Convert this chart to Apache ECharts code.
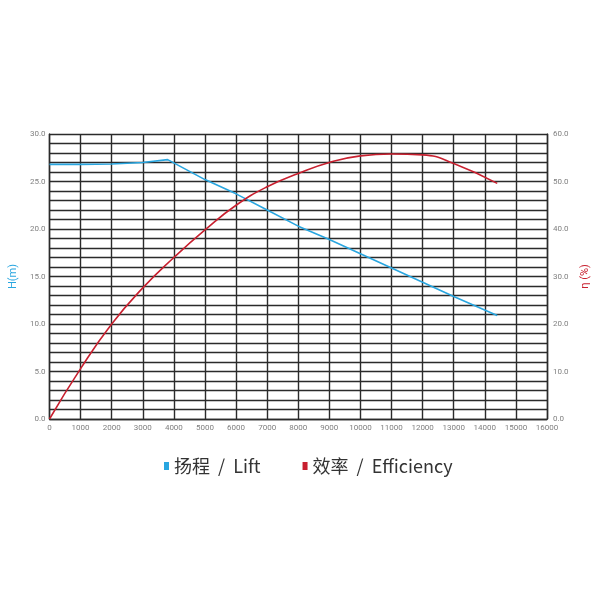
<!DOCTYPE html>
<html>
<head>
<meta charset="utf-8">
<script src="https://cdn.jsdelivr.net/npm/echarts@6/dist/echarts.min.js"></script>
<style>html,body{margin:0;padding:0;background:#fff}#c{width:600px;height:600px}</style>
</head>
<body>
<div id="c"></div>
<script>
var liftFlow = [0, 1000, 2000, 3000, 3800, 5000, 6000, 7000, 8000, 9000, 10000, 11000, 12000, 13000, 14400];
var liftValues = [26.8, 26.8, 26.85, 27.0, 27.3, 25.2, 23.7, 22.0, 20.3, 18.9, 17.4, 15.9, 14.4, 12.9, 10.9];
var effFlow = [0, 1000, 2000, 3000, 4000, 5000, 6000, 7000, 8000, 9000, 10000, 11000, 12000, 13000, 14400];
var effValues = [0, 10.6, 20, 27.6, 34, 39.8, 45.0, 48.9, 51.7, 54.0, 55.4, 55.8, 55.6, 53.8, 49.6];
var seriesNames = ['扬程  /  Lift', '效率  /  Efficiency'];
var axisNames = ['H(m)', 'η (%)'];

function pairs(xs, ys) { return xs.map(function (x, i) { return [x, ys[i]]; }); }
var gridColor = '#2b2b2b';
var labelStyle = { color: '#808080', fontSize: 8, fontFamily: 'Roboto' };
var chart = echarts.init(document.getElementById('c'));
chart.setOption({
  animation: false,
  backgroundColor: '#fff',
  grid: { left: 47, right: 53, top: 134, bottom: 181, containLabel: false },
  legend: {
    data: [
      { name: seriesNames[0], icon: 'rect', itemStyle: { color: '#29a6e0' } },
      { name: seriesNames[1], icon: 'rect', itemStyle: { color: '#c8202f' } }
    ],
    top: 452, left: 159, itemWidth: 5, itemHeight: 8, itemGap: 42,
    textStyle: { fontSize: 18, color: '#333', fontFamily: 'Noto Sans CJK SC' }
  },
  xAxis: {
    type: 'value', min: 0, max: 16000, interval: 1000,
    axisLine: { lineStyle: { color: gridColor, width: 1.4 } },
    axisTick: { show: false },
    axisLabel: Object.assign({ margin: 5, formatter: function (v) { return String(v); } }, labelStyle),
    splitLine: { show: true, lineStyle: { color: gridColor, width: 1.4 } }
  },
  yAxis: [
    {
      type: 'value', min: 0, max: 30, interval: 1, position: 'left',
      name: axisNames[0], nameLocation: 'middle', nameGap: 25,
      nameTextStyle: { color: '#29a6e0', fontSize: 11, fontFamily: 'Roboto' },
      axisLine: { show: true, lineStyle: { color: gridColor, width: 1.4 } },
      axisTick: { show: false },
      axisLabel: Object.assign({ margin: 4, formatter: function (v) { return v % 5 === 0 ? v.toFixed(1) : ''; } }, labelStyle),
      splitLine: { show: true, lineStyle: { color: gridColor, width: 1.4 } }
    },
    {
      type: 'value', min: 0, max: 60, interval: 2, position: 'right',
      name: axisNames[1], nameLocation: 'middle', nameGap: 28,
      nameTextStyle: { color: '#c8202f', fontSize: 11, fontFamily: 'Roboto' },
      axisLine: { show: true, lineStyle: { color: gridColor, width: 1.4 } },
      axisTick: { show: false },
      axisLabel: Object.assign({ margin: 6, formatter: function (v) { return v % 10 === 0 ? v.toFixed(1) : ''; } }, labelStyle),
      splitLine: { show: false }
    }
  ],
  series: [
    {
      name: seriesNames[0], type: 'line', yAxisIndex: 0, data: pairs(liftFlow, liftValues),
      showSymbol: false, smooth: false, lineStyle: { color: '#29a6e0', width: 1.6 }, itemStyle: { color: '#29a6e0' }
    },
    {
      name: seriesNames[1], type: 'line', yAxisIndex: 1, data: pairs(effFlow, effValues),
      showSymbol: false, smooth: 0.5, lineStyle: { color: '#c8202f', width: 1.6 }, itemStyle: { color: '#c8202f' }
    }
  ]
});
</script>
</body>
</html>
